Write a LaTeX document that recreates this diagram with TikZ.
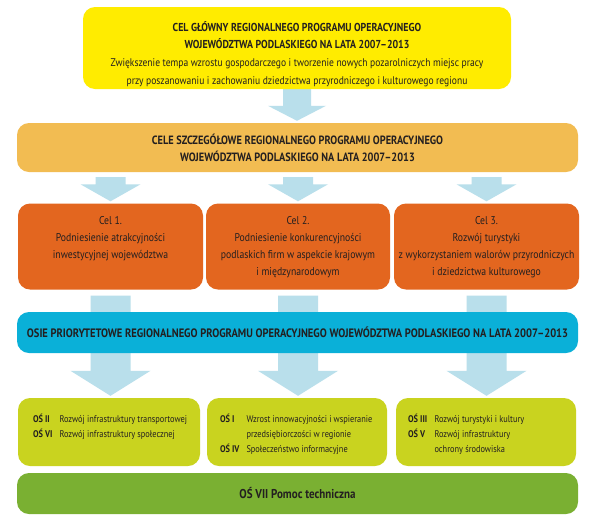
\documentclass[tikz,border=0pt]{standalone}
\usepackage{fontspec}
\setmainfont{PT Sans}[FakeStretch=0.86]
\usetikzlibrary{calc}
\definecolor{ylw}{HTML}{FFEC00}
\definecolor{lorange}{HTML}{F2BC52}
\definecolor{orng}{HTML}{E3661F}
\definecolor{cyanb}{HTML}{0AB0D8}
\definecolor{limec}{HTML}{C9D31F}
\definecolor{grn}{HTML}{7AB032}
\definecolor{arrowc}{HTML}{B9DFEB}
\definecolor{txt}{HTML}{231F20}
\newcommand\headsz{\fontsize{11.5}{17.7}\selectfont\bfseries}
\pgfdeclarelayer{bg}
\pgfsetlayers{bg,main}
% #1 from anchor, #2 to anchor, #3 start gap, #4 shaft half width, #5 head half width, #6 head length
\newcommand\barrow[6]{%
  \begin{pgfonlayer}{bg}
  \fill[arrowc] let \p1=(#1), \p2=(#2) in
    (\x1-#4pt,\y1-#3pt) -- (\x1+#4pt,\y1-#3pt) -- (\x1+#4pt,\y2+2pt+#6pt)
    -- (\x1+#5pt,\y2+2pt+#6pt) -- (\x1,\y2+2pt) -- (\x1-#5pt,\y2+2pt+#6pt)
    -- (\x1-#4pt,\y2+2pt+#6pt) -- cycle;
  \end{pgfonlayer}}
\begin{document}
\begin{tikzpicture}[x=1pt,y=-1pt,
  every node/.style={text=txt},
  box/.style={rounded corners=12pt, inner sep=0pt, draw=none, align=center},
  bfont/.style={font=\fontsize{11.1}{17.7}\selectfont},
  sfont/.style={font=\fontsize{12}{17}\selectfont},
  celfont/.style={font=\fontsize{11.3}{17}\selectfont},
  limefont/.style={font=\fontsize{9.7}{15}\selectfont}]
\begin{pgfonlayer}{bg}
\fill[white] (0,0) rectangle (591,528);
\end{pgfonlayer}
\useasboundingbox (0,0) rectangle (591,528);

\node[box, fill=ylw, minimum width=428pt, minimum height=82pt] (main) at (297,48) {};
\node[anchor=north, align=center, inner sep=0pt, bfont] (maint) at ($(main.north)+(0,14)$)
 {{\headsz CEL GŁÓWNY REGIONALNEGO PROGRAMU OPERACYJNEGO}\\
  {\headsz WOJEWÓDZTWA PODLASKIEGO NA LATA 2007–2013}\\
  Zwiększenie tempa wzrostu gospodarczego i tworzenie nowych pozarolniczych miejsc pracy\\
  przy poszanowaniu i zachowaniu dziedzictwa przyrodniczego i kulturowego regionu};

\node[box, fill=lorange, minimum width=561pt, minimum height=49pt, sfont] (spec) at (297.5,147.5)
 {\textbf{CELE SZCZEGÓŁOWE REGIONALNEGO PROGRAMU OPERACYJNEGO}\\
  \textbf{WOJEWÓDZTWA PODLASKIEGO NA LATA 2007–2013}};

\node[box, fill=orng, minimum width=185pt, minimum height=86pt] (cel1) at (110.5,246.5) {};
\node[box, fill=orng, minimum width=184pt, minimum height=86pt] (cel2) at (298,246.5) {};
\node[box, fill=orng, minimum width=185pt, minimum height=86pt] (cel3) at (486.5,246.5) {};
\node[anchor=north, align=center, celfont, inner sep=0pt] (cel1t) at ($(cel1.north)+(0,13)$)
 {Cel 1.\\Podniesienie atrakcyjności\\inwestycyjnej województwa};
\node[anchor=north, align=center, celfont, inner sep=0pt] (cel2t) at ($(cel2.north)+(0,13)$)
 {Cel 2.\\Podniesienie konkurencyjności\\podlaskich firm w aspekcie krajowym\\i międzynarodowym};
\node[anchor=north, align=center, celfont, inner sep=0pt] (cel3t) at ($(cel3.north)+(0,13)$)
 {Cel 3.\\Rozwój turystyki\\z wykorzystaniem walorów przyrodniczych\\i dziedzictwa kulturowego};

\node[box, fill=cyanb, minimum width=561pt, minimum height=41pt, font=\fontsize{12.2}{15}\selectfont] (osie) at (297.5,332.5)
 {\textbf{OSIE PRIORYTETOWE REGIONALNEGO PROGRAMU OPERACYJNEGO WOJEWÓDZTWA PODLASKIEGO NA LATA 2007–2013}};

\node[box, fill=limec, minimum width=182pt, minimum height=68pt] (lime1) at (109,432) {};
\node[box, fill=limec, minimum width=180pt, minimum height=68pt] (lime2) at (297,432) {};
\node[box, fill=limec, minimum width=180pt, minimum height=68pt] (lime3) at (486,432) {};
\node[anchor=north west, inner sep=0pt, limefont] (lime1t) at ($(lime1.north west)+(15,14)$)
 {\begin{tabular}{@{}p{26.5pt}@{}l@{}}
  \textbf{OŚ II} & Rozwój infrastruktury transportowej\\
  \textbf{OŚ VI} & Rozwój infrastruktury społecznej
  \end{tabular}};
\node[anchor=north west, inner sep=0pt, limefont] (lime2t) at ($(lime2.north west)+(13,14)$)
 {\begin{tabular}{@{}p{26.5pt}@{}l@{}}
  \textbf{OŚ I} & Wzrost innowacyjności i wspieranie\\
   & przedsiębiorczości w regionie\\
  \textbf{OŚ IV} & Społeczeństwo informacyjne
  \end{tabular}};
\node[anchor=north west, inner sep=0pt, limefont] (lime3t) at ($(lime3.north west)+(12,14)$)
 {\begin{tabular}{@{}p{26.5pt}@{}l@{}}
  \textbf{OŚ III} & Rozwój turystyki i kultury\\
  \textbf{OŚ V} & Rozwój infrastruktury\\
   & ochrony środowiska
  \end{tabular}};

\node[box, fill=grn, minimum width=561pt, minimum height=41pt, font=\fontsize{12.8}{15}\selectfont] (tech) at (297.5,493.5)
 {\textbf{OŚ VII Pomoc techniczna}};

% block arrows
\barrow{main.south}{spec.north}{0}{14}{29}{15}
\barrow{cel1.north |- spec.south}{cel1.north}{5}{15}{30}{17}
\barrow{cel2.north |- spec.south}{cel2.north}{5}{15}{30}{17}
\barrow{cel3.north |- spec.south}{cel3.north}{5}{15}{30}{17}
\barrow{cel1.south}{lime1.north}{6}{20}{40}{25}
\barrow{cel2.south}{lime2.north}{6}{20}{40}{25}
\barrow{cel3.south}{lime3.north}{6}{20}{40}{25}
\end{tikzpicture}
\end{document}
